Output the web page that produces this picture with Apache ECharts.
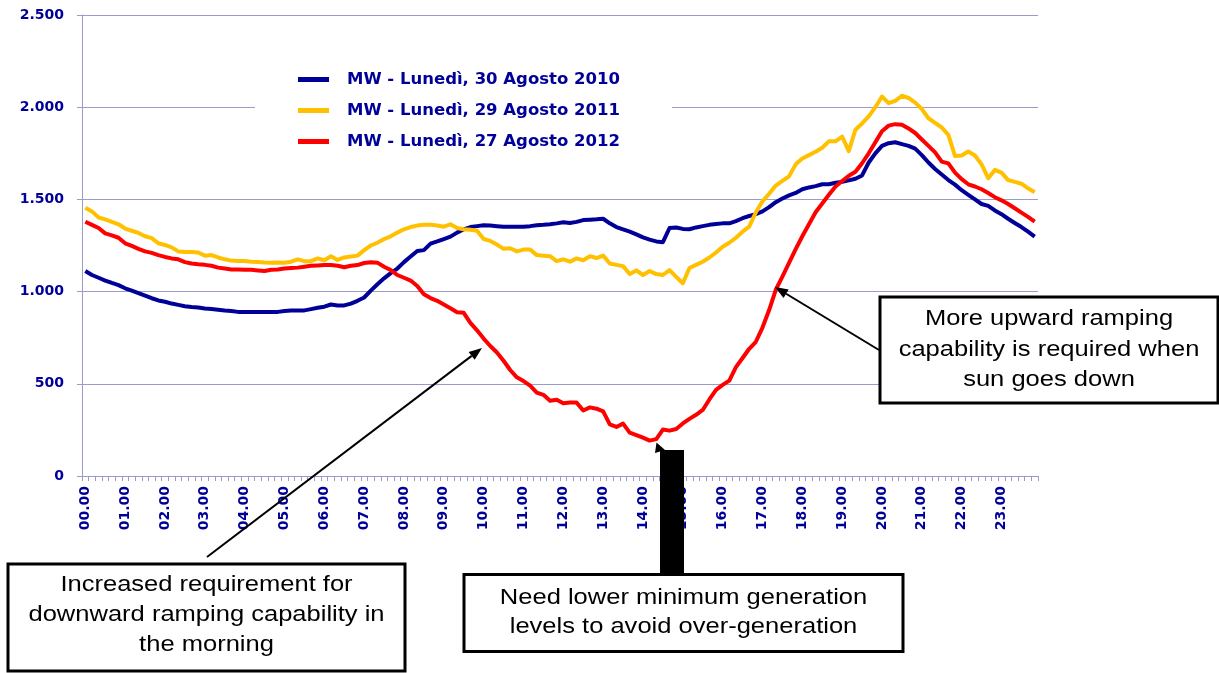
<!DOCTYPE html>
<html>
<head>
<meta charset="utf-8">
<script src="https://cdn.jsdelivr.net/npm/echarts@6/dist/echarts.min.js"></script>
<style>
  html, body { margin: 0; padding: 0; background: #ffffff; }
  #chart { width: 1219px; height: 673px; }
</style>
</head>
<body>
<div id="chart"></div>
<script>
// Time of day, one category every 10 minutes
const HOURS = ['00','01','02','03','04','05','06','07','08','09','10','11',
               '12','13','14','15','16','17','18','19','20','21','22','23'];
const MINUTES = ['00','10','20','30','40','50'];

const SERIES_NAMES = [
  'MW - Lunedì, 30 Agosto 2010',
  'MW - Lunedì, 29 Agosto 2011',
  'MW - Lunedì, 27 Agosto 2012'
];

// MW, 10-minute values
const mw2010 = [
  1112,1090,1075,1060,1047,1035,1018,1005,992,978,964,952,
  945,935,928,921,916,914,908,905,902,898,895,890,
  889,889,889,889,890,890,895,897,898,898,905,912,
  918,930,925,925,935,950,968,1005,1040,1072,1100,1125,
  1160,1190,1220,1225,1260,1272,1285,1298,1320,1338,1350,1355,
  1360,1358,1355,1352,1352,1352,1352,1355,1360,1362,1365,1370,
  1376,1372,1378,1388,1390,1392,1395,1370,1350,1338,1325,1310,
  1294,1282,1272,1268,1345,1348,1340,1338,1348,1355,1362,1366,
  1370,1370,1382,1398,1410,1420,1435,1458,1485,1505,1522,1535,
  1555,1565,1572,1582,1582,1590,1595,1603,1612,1630,1700,1750,
  1790,1805,1810,1800,1790,1775,1740,1700,1665,1635,1605,1580,
  1550,1525,1500,1475,1465,1440,1420,1395,1372,1350,1325,1298
];
const mw2011 = [
  1455,1435,1402,1392,1378,1365,1342,1330,1318,1300,1290,1262,
  1253,1240,1218,1215,1215,1212,1195,1198,1185,1175,1168,1166,
  1166,1162,1160,1158,1157,1158,1157,1162,1175,1165,1165,1180,
  1170,1192,1172,1185,1190,1195,1225,1250,1265,1285,1300,1320,
  1338,1350,1358,1362,1362,1358,1352,1365,1345,1338,1335,1330,
  1285,1275,1255,1232,1235,1218,1228,1228,1198,1195,1192,1165,
  1175,1162,1180,1170,1192,1182,1195,1152,1145,1138,1095,1115,
  1090,1112,1095,1090,1117,1080,1045,1128,1145,1162,1185,1212,
  1243,1265,1292,1325,1352,1430,1490,1530,1575,1600,1625,1690,
  1722,1740,1758,1780,1815,1815,1840,1762,1878,1912,1950,2000,
  2058,2022,2034,2062,2050,2025,1990,1940,1915,1890,1850,1735,
  1738,1760,1738,1690,1615,1660,1645,1605,1595,1585,1560,1539
];
const mw2012 = [
  1379,1362,1345,1316,1305,1292,1262,1248,1232,1218,1210,1198,
  1188,1180,1175,1160,1152,1148,1145,1140,1130,1125,1120,1120,
  1118,1118,1115,1112,1118,1120,1125,1128,1130,1135,1140,1142,
  1144,1144,1140,1132,1140,1144,1155,1159,1157,1135,1117,1090,
  1075,1060,1030,985,965,950,930,910,888,885,830,790,
  745,705,670,625,575,535,515,490,452,440,408,414,
  394,398,398,355,372,365,350,280,266,284,235,222,
  208,192,200,252,246,255,285,310,332,358,415,467,
  494,517,590,640,690,728,805,900,1010,1081,1156,1230,
  1300,1365,1430,1478,1525,1570,1600,1628,1650,1696,1750,1810,
  1870,1900,1908,1905,1885,1860,1825,1790,1755,1705,1695,1645,
  1610,1582,1570,1555,1535,1512,1495,1475,1452,1428,1405,1379
];

const Y_MIN = 0, Y_MAX = 2500, Y_STEP = 500;
const SERIES_COLORS = ['#000099', '#FFC000', '#FF0000'];

const NOTE_MORNING = 'Increased requirement for\ndownward ramping capability in\nthe morning';
const NOTE_MIDDAY = 'Need lower minimum generation\nlevels to avoid over-generation';
const NOTE_EVENING = 'More upward ramping\ncapability is required when\nsun goes down';

const categories = [];
HOURS.forEach(h => MINUTES.forEach(m => categories.push(h + '.' + m)));

function formatThousands(v) {
  if (v < 1000) return String(v);
  return Math.floor(v / 1000) + '.' + String(v % 1000).padStart(3, '0');
}

const AXIS_COLOR = '#9a9acc';
const LABEL_COLOR = '#000099';

// Straight connector with a filled head at (x2, y2)
function arrow(x1, y1, x2, y2, len, half) {
  const dx = x2 - x1, dy = y2 - y1;
  const d = Math.sqrt(dx * dx + dy * dy);
  const ux = dx / d, uy = dy / d;
  const bx = x2 - ux * len, by = y2 - uy * len;
  return [
    { type: 'line', z: 100, shape: { x1: x1, y1: y1, x2: bx, y2: by },
      style: { stroke: '#000', lineWidth: 2 } },
    { type: 'polygon', z: 100,
      shape: { points: [[x2, y2], [bx - uy * half, by + ux * half], [bx + uy * half, by - ux * half]] },
      style: { fill: '#000' } }
  ];
}

function noteBox(x, y, w, h, text, cy, lineHeight) {
  return [
    { type: 'rect', z: 100, shape: { x: x, y: y, width: w, height: h },
      style: { fill: '#fff', stroke: '#000', lineWidth: 3 } },
    { type: 'text', z: 101, x: x + w / 2, y: cy, scaleX: 1.16,
      style: { text: text, x: 0, y: 0, fill: '#000', fontFamily: 'Liberation Sans, Arial, sans-serif',
               fontSize: 22, lineHeight: lineHeight, align: 'center', verticalAlign: 'middle' } }
  ];
}

const graphics = [].concat(
  arrow(207, 557, 482, 348, 13, 5),
  arrow(879, 350, 775, 287, 13, 5),
  [
    { type: 'rect', z: 100, shape: { x: 660, y: 450, width: 24, height: 125 }, style: { fill: '#000' } },
    { type: 'polygon', z: 100, shape: { points: [[656.5, 442.5], [665, 450], [655, 453]] }, style: { fill: '#000' } }
  ],
  noteBox(8, 564, 397, 107, NOTE_MORNING, 615, 30),
  noteBox(464, 574.5, 439, 77, NOTE_MIDDAY, 612, 29),
  noteBox(880, 297, 338, 106, NOTE_EVENING, 349.5, 30.7)
);

const chart = echarts.init(document.getElementById('chart'), null, { renderer: 'canvas' });
chart.setOption({
  animation: false,
  backgroundColor: '#ffffff',
  grid: { left: 82, right: 181, top: 15, bottom: 197, containLabel: false },
  legend: {
    orient: 'vertical',
    left: 255,
    top: 63,
    padding: [8, 52, 12, 43],
    backgroundColor: '#ffffff',
    itemGap: 14,
    itemWidth: 31,
    itemHeight: 5,
    icon: 'rect',
    textStyle: {
      fontFamily: 'DejaVu Sans', fontWeight: 'bold', fontSize: 16.5, color: LABEL_COLOR,
      padding: [0, 0, 0, 13]
    },
    data: SERIES_NAMES
  },
  xAxis: {
    type: 'category',
    data: categories,
    boundaryGap: true,
    axisLine: { show: true, lineStyle: { color: AXIS_COLOR, width: 1 } },
    axisTick: { show: true, interval: 0, length: 5, lineStyle: { color: AXIS_COLOR } },
    axisLabel: {
      interval: 5, rotate: 90, margin: 10,
      color: LABEL_COLOR, fontFamily: 'DejaVu Sans', fontWeight: 'bold', fontSize: 14
    },
    splitLine: { show: false }
  },
  yAxis: {
    type: 'value',
    min: Y_MIN, max: Y_MAX, interval: Y_STEP,
    axisLine: { show: true, lineStyle: { color: AXIS_COLOR, width: 1 } },
    axisTick: { show: true, length: 5, lineStyle: { color: AXIS_COLOR } },
    axisLabel: {
      margin: 18, formatter: formatThousands,
      color: LABEL_COLOR, fontFamily: 'DejaVu Sans', fontWeight: 'bold', fontSize: 14
    },
    splitLine: { show: true, lineStyle: { color: AXIS_COLOR, width: 1 } }
  },
  series: [mw2010, mw2011, mw2012].map((values, k) => ({
    name: SERIES_NAMES[k],
    type: 'line',
    data: values,
    showSymbol: false,
    symbol: 'none',
    color: SERIES_COLORS[k],
    lineStyle: { color: SERIES_COLORS[k], width: 4, join: 'round' },
    emphasis: { disabled: true }
  })),
  graphic: graphics
});
</script>
</body>
</html>
